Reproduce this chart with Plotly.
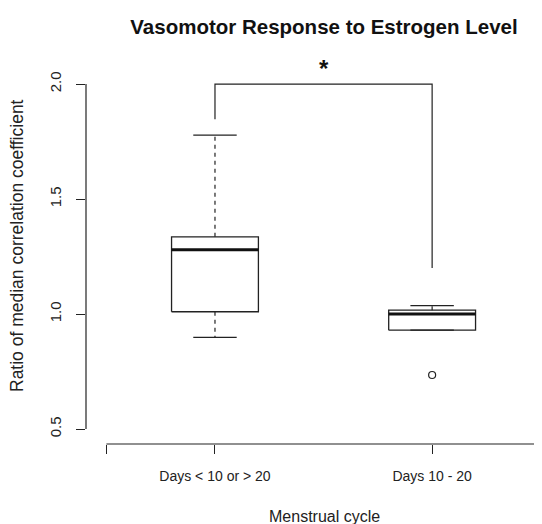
import plotly.graph_objects as go

# ---- data ----
categories = ["Days < 10 or > 20", "Days 10 - 20"]
positions = [1, 2]
q1 = [1.010, 0.930]
median = [1.280, 1.000]
q3 = [1.336, 1.017]
lower_whisker = [0.899, 0.930]
upper_whisker = [1.778, 1.037]
outlier_x = [2]
outlier_y = [0.735]
bracket_x = [1, 1, 2, 2]
bracket_y = [1.847, 2.0, 2.0, 1.2]
star_label = "*"
y_ticks = [0.5, 1.0, 1.5, 2.0]
y_ticktext = ["0.5", "1.0", "1.5", "2.0"]

FONT = "Liberation Sans, Arial, sans-serif"
INK = "#222222"
HALF = 0.2
CAP = 0.1

# page has an 8px body margin; figure is laid out in page coords minus 8
OFF = 8
W, H = 542 - OFF, 524 - OFF
L = 86 - OFF
T = 48 - OFF
B = H - (444 - OFF)
PW = W - L
PH = H - T - B

fig = go.Figure()

for p, a, m, b, lo, hi in zip(positions, q1, median, q3, lower_whisker, upper_whisker):
    fig.add_trace(go.Scatter(x=[p - HALF, p + HALF, p + HALF, p - HALF, p - HALF],
                             y=[a, a, b, b, a], mode="lines",
                             line=dict(color=INK, width=1.3), showlegend=False, hoverinfo="skip"))
    fig.add_trace(go.Scatter(x=[p - HALF, p + HALF], y=[m, m], mode="lines",
                             line=dict(color="#111111", width=3), showlegend=False, hoverinfo="skip"))
    fig.add_trace(go.Scatter(x=[p, p, None, p, p], y=[b, hi, None, a, lo], mode="lines",
                             line=dict(color=INK, width=1.2, dash="4px,4px"),
                             showlegend=False, hoverinfo="skip"))
    fig.add_trace(go.Scatter(x=[p - CAP, p + CAP, None, p - CAP, p + CAP], y=[hi, hi, None, lo, lo],
                             mode="lines", line=dict(color=INK, width=1.3),
                             showlegend=False, hoverinfo="skip"))

fig.add_trace(go.Scatter(x=outlier_x, y=outlier_y, mode="markers",
                         marker=dict(symbol="circle-open", size=7, color=INK, line=dict(width=1.2)),
                         showlegend=False, hoverinfo="skip"))

fig.add_trace(go.Scatter(x=bracket_x, y=bracket_y, mode="lines",
                         line=dict(color=INK, width=1.2), showlegend=False, hoverinfo="skip"))
fig.add_annotation(x=(bracket_x[1] + bracket_x[2]) / 2, y=2.068, text="<b>" + star_label + "</b>",
                   showarrow=False, font=dict(family=FONT, size=24, color="#111111"),
                   xanchor="center", yanchor="middle")

fig.add_shape(type="line", xref="paper", x0=0, x1=0, yref="y", y0=y_ticks[0], y1=y_ticks[-1],
              line=dict(color=INK, width=1.2))
fig.add_shape(type="line", xref="x", x0=0.5, x1=2.5, yref="paper", y0=0, y1=0,
              line=dict(color=INK, width=1.2))

fig.update_xaxes(range=[0.406, 2.506], showgrid=False, zeroline=False, showline=False,
                 tickvals=[0.5] + positions + [2.5], ticktext=[""] + categories + [""],
                 ticks="outside", ticklen=9, tickcolor=INK, tickwidth=1.2,
                 tickfont=dict(family=FONT, size=14, color=INK), ticklabelstandoff=10)
fig.update_yaxes(range=[0.435, 2.157], showgrid=False, zeroline=False, showline=False,
                 tickvals=y_ticks, ticktext=y_ticktext, tickangle=-90,
                 ticks="outside", ticklen=9, tickcolor=INK, tickwidth=1.2,
                 tickfont=dict(family=FONT, size=15, color=INK), ticklabelstandoff=9)

fig.add_annotation(xref="paper", yref="paper", x=(324 - 86) / PW, y=(444 - 517) / PH,
                   text="Menstrual cycle", showarrow=False,
                   font=dict(family=FONT, size=16, color=INK), xanchor="center", yanchor="middle")
fig.add_annotation(xref="paper", yref="paper", x=(17 - 86) / PW, y=(444 - 246) / PH,
                   text="Ratio of median correlation coefficient", showarrow=False, textangle=-90,
                   font=dict(family=FONT, size=17.5, color=INK), xanchor="center", yanchor="middle")

fig.update_layout(
    width=W, height=H,
    margin=dict(l=L, r=0, t=T, b=B),
    paper_bgcolor="white", plot_bgcolor="white",
    title=dict(text="<b>Vasomotor Response to Estrogen Level</b>",
               x=(324 - 86) / PW, xref="paper", xanchor="center",
               y=1 - (27 - OFF) / H, yref="container", yanchor="middle",
               font=dict(family=FONT, size=20.5, color="#111111")),
)

fig.write_html("out.html")
